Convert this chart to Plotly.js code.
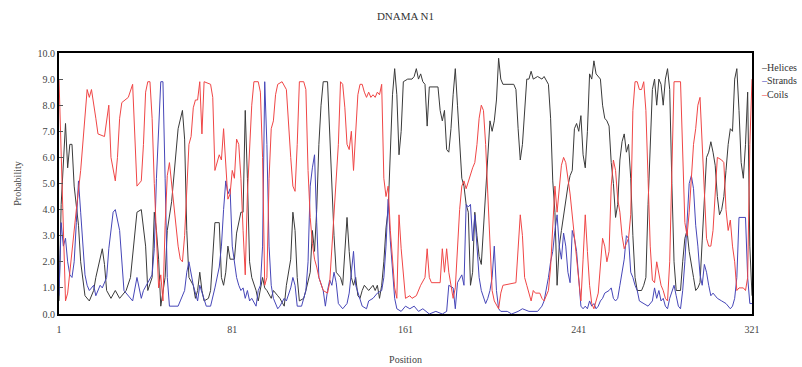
<!DOCTYPE html>
<html>
<head>
<meta charset="utf-8">
<script src="https://cdn.plot.ly/plotly-3.0.1.min.js"></script>
<style>html,body{margin:0;padding:0;background:#fff;}#chart{width:802px;height:367px;}</style>
</head>
<body>
<div id="chart"></div>
<script>
// ---- data ----
const seriesNames = ["Helices", "Strands", "Coils"];
const xTickVals = [1, 81, 161, 241, 321];
const yTickVals = [0, 1, 2, 3, 4, 5, 6, 7, 8, 9, 10];

const helixPos = [1,2,4,5,6,7,8,10,11,13,15,17,18,21,22,23,25,27,29,32,34,37,39,41,42,44,45,46,47,48,50,51,53,55,56,58,59,60,61,63,64,65,66,67,68,70,71,73,75,76,77,78,79,80,82,83,85,86,87,88,89,90,92,93,95,96,97,99,100,102,103,105,106,108,109,110,111,112,114,115,117,118,119,120,121,122,123,125,126,127,128,129,131,132,133,134,135,136,137,138,139,140,141,142,144,145,146,147,148,149,150,151,152,153,154,155,156,157,158,159,160,162,164,165,166,167,168,169,170,171,172,174,176,177,178,179,180,181,182,183,184,185,186,187,188,189,190,191,192,193,194,195,196,197,198,199,200,201,202,203,204,205,206,211,212,213,214,215,216,217,218,219,220,222,224,225,227,228,229,230,231,232,233,234,235,236,237,238,239,240,241,242,243,244,245,246,247,248,249,251,252,253,254,255,256,257,258,259,260,261,262,263,264,265,266,267,268,270,271,272,273,274,275,276,277,278,279,280,281,282,283,284,285,286,288,289,290,291,292,294,295,296,297,298,299,300,301,302,303,304,305,306,307,308,309,310,311,312,313,314,315,316,317,318,319,320,321];
const helixProb = [0.5,4.2,7.3,5.6,6.5,6.5,4.9,3.4,2.0,0.7,0.5,0.9,1.4,2.5,1.9,0.9,0.6,0.9,0.6,0.9,1.4,3.9,4.0,2.6,0.9,1.4,3.9,3.2,2.1,0.3,1.4,3.2,4.3,6.1,7.1,7.8,6.7,3.2,1.4,1.1,0.6,0.9,1.6,0.9,0.5,0.6,0.9,3.5,3.5,1.4,1.1,1.6,2.6,2.1,2.1,3.1,3.9,3.9,7.8,5.2,2.0,1.4,0.9,0.5,1.4,1.0,0.9,0.6,0.9,0.7,0.6,0.3,1.1,2.1,3.9,3.2,1.4,0.5,0.6,0.9,1.6,3.2,2.4,4.0,6.5,8.0,8.9,8.9,7.0,4.6,3.0,1.6,1.4,1.1,2.6,3.7,2.4,1.4,1.1,1.4,0.7,0.6,0.9,1.1,0.9,1.0,1.1,0.9,1.1,0.6,1.1,2.0,3.3,4.0,6.5,8.4,9.4,8.4,6.1,7.0,8.9,9.0,9.0,9.1,9.4,9.0,9.2,8.9,8.8,7.2,8.7,8.7,8.7,7.8,7.4,7.8,6.3,6.2,7.1,8.4,9.4,8.0,6.5,5.2,4.9,4.2,3.9,1.1,1.6,3.9,3.0,2.2,1.9,3.2,4.5,6.0,7.4,7.0,7.4,8.2,9.8,9.0,8.8,8.8,8.6,7.1,5.9,6.5,7.8,9.0,9.0,9.3,9.0,9.1,9.0,9.1,8.8,7.5,5.1,3.9,1.1,2.6,3.2,3.8,4.2,4.9,5.3,5.5,7.1,7.3,7.0,7.6,6.1,5.6,7.0,9.2,9.0,9.7,9.2,9.0,8.0,7.5,7.4,7.2,5.8,5.0,3.7,4.2,5.9,6.6,6.9,6.2,6.5,5.2,3.0,1.4,0.9,0.9,1.1,1.4,4.2,6.5,8.6,9.0,8.0,9.0,8.8,8.0,9.0,9.4,8.6,5.0,2.0,0.9,0.9,2.0,2.9,3.2,2.4,1.4,0.9,1.0,1.2,2.8,4.5,6.0,6.2,6.6,6.2,5.7,4.5,3.8,4.0,4.5,5.5,6.5,7.1,7.0,9.0,9.4,7.8,5.8,5.2,6.5,8.5,2.6,0.7];

const strandPos = [1,2,3,4,5,6,7,8,9,10,11,12,13,14,15,17,18,20,21,23,24,26,27,29,31,35,37,39,40,42,44,45,46,48,49,50,51,52,56,57,59,60,61,63,65,66,68,69,71,72,73,75,76,77,78,79,80,81,82,83,84,85,86,87,88,89,90,92,93,94,95,96,97,98,99,100,102,103,105,106,108,109,110,111,113,115,116,117,118,119,120,121,123,124,125,126,127,128,129,130,132,134,135,136,137,138,140,141,143,144,146,148,150,151,152,153,154,155,156,157,159,161,163,165,167,169,172,175,178,180,181,183,184,185,187,188,189,190,191,192,193,194,195,196,197,198,199,200,201,202,203,204,205,208,210,213,215,218,222,224,225,226,227,228,229,230,231,232,233,234,235,236,237,238,239,240,241,242,243,244,245,246,247,248,249,250,251,252,253,255,256,257,258,259,260,262,263,264,265,266,267,268,269,271,273,275,276,277,278,279,280,281,282,283,284,285,286,287,288,289,290,291,292,293,294,295,296,297,298,299,300,301,302,303,305,307,309,311,312,313,314,315,318,319,320,321];
const strandProb = [0.7,3.5,2.6,2.9,2.0,1.5,1.4,2.0,3.5,5.1,3.9,2.6,1.5,1.1,0.9,1.1,0.7,1.1,1.0,1.4,2.5,3.9,4.0,3.2,0.9,0.5,1.4,0.6,0.9,1.2,1.5,2.5,5.2,8.9,8.9,5.2,1.4,0.3,0.3,0.5,0.9,1.6,2.0,1.1,0.5,1.1,0.6,0.3,0.3,0.6,1.0,1.8,2.6,4.0,5.1,4.6,4.8,2.6,2.0,1.4,1.1,0.9,1.0,0.6,0.9,0.5,0.6,0.3,0.9,1.1,2.6,8.9,6.5,2.6,1.1,0.6,0.2,0.3,0.6,0.5,1.0,1.4,1.1,0.3,0.3,0.9,2.0,4.9,5.6,6.1,3.5,1.4,0.9,0.3,0.9,1.3,1.1,1.6,1.2,0.4,0.2,0.4,0.8,1.6,2.4,1.1,0.6,0.3,0.2,0.5,0.6,0.8,0.9,1.4,2.6,4.4,2.8,1.6,0.6,0.2,0.1,0.3,0.2,0.3,0.1,0.2,0.0,0.1,0.0,0.1,1.1,1.0,0.2,1.2,1.5,1.1,4.2,4.1,4.2,2.8,3.8,2.6,1.4,0.9,0.6,0.4,0.6,0.9,1.4,2.6,0.9,0.2,0.1,0.1,0.0,0.1,0.2,0.1,0.1,0.3,0.5,0.9,1.4,2.0,2.4,3.2,3.8,2.6,2.1,3.1,2.6,1.6,1.2,3.2,2.9,2.4,1.4,0.3,0.2,0.3,0.2,0.5,0.3,0.4,0.2,0.3,0.5,0.6,0.8,0.9,1.0,0.6,0.5,0.6,1.1,2.1,3.0,2.9,1.6,1.4,1.1,0.9,0.5,0.4,0.3,0.5,1.0,0.6,0.9,0.5,0.6,0.3,0.2,0.6,0.9,1.1,0.7,0.3,0.2,0.9,2.0,3.5,5.0,5.3,4.8,3.4,2.6,1.5,1.1,1.9,1.6,1.1,0.7,0.8,0.6,0.5,0.4,0.2,0.3,0.6,1.4,3.7,3.7,1.4,0.4,0.4];

const coilPos = [1,2,3,4,5,7,9,11,13,14,15,16,18,19,22,23,24,25,26,27,28,29,30,33,35,36,37,39,40,41,42,43,44,45,46,47,48,49,50,51,52,53,54,55,56,57,58,59,60,61,62,63,64,65,66,67,68,71,72,73,75,76,77,78,79,80,81,82,83,84,85,86,87,88,89,90,91,93,94,95,96,97,98,99,100,101,102,104,106,107,108,109,110,111,112,114,115,116,117,118,119,120,121,123,125,126,127,128,129,130,131,132,133,134,135,136,137,138,139,140,141,142,143,144,145,146,147,148,149,150,151,152,153,154,155,156,157,158,159,160,161,163,164,166,168,170,171,172,173,177,178,179,180,181,182,183,184,185,186,187,188,189,190,192,193,194,195,196,197,198,199,200,201,202,204,205,206,212,213,214,215,216,217,218,219,220,221,223,224,225,226,227,228,229,230,231,232,233,234,235,237,238,239,240,241,242,243,244,245,246,247,248,250,251,252,253,254,255,256,257,258,259,260,261,262,263,264,265,266,267,268,269,270,271,272,273,274,275,276,277,278,279,280,281,282,283,284,285,288,289,290,291,292,293,294,295,296,297,298,299,300,301,302,303,304,305,307,308,309,310,311,312,313,314,315,317,318,319,320,321];
const coilProb = [9.0,6.0,3.0,0.5,0.8,2.5,4.0,5.5,7.8,8.6,8.3,8.6,7.5,6.9,6.8,7.5,8.0,6.0,5.6,5.1,6.0,7.5,8.1,8.3,8.8,7.0,4.9,5.1,6.5,8.5,8.9,8.9,7.5,5.0,2.6,1.0,1.5,0.5,3.4,5.3,5.8,5.0,4.2,3.5,2.6,2.1,2.0,3.0,4.7,6.5,6.8,7.9,8.2,8.2,8.9,6.9,8.9,8.8,8.3,5.5,6.1,5.9,7.1,5.5,4.4,4.6,5.5,5.2,6.7,6.5,5.2,3.2,1.5,4.6,6.5,8.0,8.9,8.9,8.5,6.0,1.1,1.4,5.2,7.1,7.4,8.4,8.8,8.9,8.6,7.1,6.0,4.9,4.7,6.5,8.9,8.9,8.6,5.5,3.7,2.7,2.1,1.8,1.4,0.9,0.8,1.2,2.5,3.9,5.3,6.5,8.9,8.8,7.9,6.5,6.3,7.0,5.5,7.0,8.4,8.8,8.8,8.5,8.3,8.5,8.3,8.4,8.3,8.5,8.4,8.8,5.2,4.5,4.9,3.2,2.0,1.0,0.6,3.8,2.5,1.4,0.6,0.7,0.6,0.7,1.1,1.4,2.5,1.4,1.2,1.2,2.5,1.6,2.5,1.6,1.0,0.6,1.0,2.6,4.0,4.9,5.1,4.8,5.1,5.6,5.8,6.5,7.5,8.0,7.8,6.5,4.6,2.6,0.9,0.5,0.2,0.8,1.1,1.2,2.6,3.8,3.0,1.4,1.1,0.8,0.5,0.9,0.8,0.8,0.6,0.5,0.7,0.9,1.8,3.2,4.9,3.9,4.8,5.7,6.0,5.8,4.6,3.8,3.0,2.1,1.2,0.5,2.1,3.8,2.4,1.1,0.4,0.2,0.8,2.0,2.9,2.6,2.0,2.4,4.9,5.9,5.5,4.4,3.9,3.0,2.5,2.7,2.9,3.8,7.8,8.9,8.9,8.6,8.6,8.9,7.8,5.2,2.6,1.3,1.2,2.0,1.5,1.1,0.9,0.6,0.5,2.0,5.5,8.9,8.9,6.5,3.5,3.0,3.9,5.2,6.5,7.1,8.0,8.3,6.5,4.2,2.9,2.6,2.6,3.2,4.5,6.0,5.9,5.8,4.0,3.2,3.6,2.6,2.0,0.9,1.0,1.0,0.9,1.4,6.5,9.0];

const seriesColors = ["#3a3a3a", "#4646b8", "#f04646"];

// ---- chart ----
const serif = "Liberation Serif, Times New Roman, serif";
const traces = [
  {x: helixPos, y: helixProb, name: seriesNames[0]},
  {x: strandPos, y: strandProb, name: seriesNames[1]},
  {x: coilPos, y: coilProb, name: seriesNames[2]}
].map((t, i) => Object.assign(t, {
  type: "scatter", mode: "lines",
  line: {color: seriesColors[i], width: 1},
  hoverinfo: "skip", showlegend: false
}));

const legendY = [0.943, 0.893, 0.842];
const annotations = seriesNames.map((n, i) => ({
  xref: "paper", yref: "paper", x: 1, y: legendY[i],
  xanchor: "left", yanchor: "middle", xshift: 7, showarrow: false,
  text: '<span style="color:' + seriesColors[i] + '">\u2013</span>' + n,
  font: {family: serif, size: 10, color: "#333"}
}));

const layout = {
  width: 802, height: 367,
  margin: {l: 59, r: 50, t: 53, b: 53},
  paper_bgcolor: "#ffffff", plot_bgcolor: "#ffffff",
  title: {text: "DNAMA N1", x: 0.5, xref: "paper", y: 0.955, yanchor: "middle",
          font: {family: serif, size: 11, color: "#333"}},
  font: {family: serif, size: 10, color: "#444"},
  showlegend: false,
  xaxis: {
    range: [1, 321], tickvals: xTickVals, ticktext: xTickVals.map(String),
    showgrid: false, zeroline: false, showline: true, mirror: true,
    linecolor: "#000", linewidth: 2, ticks: "", ticklabelstandoff: 5,
    tickfont: {family: serif, size: 10, color: "#444"},
    title: {text: "Position", standoff: 22, font: {family: serif, size: 10, color: "#444"}}
  },
  yaxis: {
    range: [0, 10], tickvals: yTickVals, tickformat: ".1f",
    showgrid: false, zeroline: false, showline: true, mirror: true,
    linecolor: "#000", linewidth: 2, ticks: "inside", ticklen: 4, tickcolor: "#555",
    tickfont: {family: serif, size: 10, color: "#444"},
    title: {text: "Probability", standoff: 14, font: {family: serif, size: 10, color: "#444"}}
  },
  annotations: annotations
};

Plotly.newPlot("chart", traces, layout, {staticPlot: true, displayModeBar: false});
</script>
</body>
</html>
